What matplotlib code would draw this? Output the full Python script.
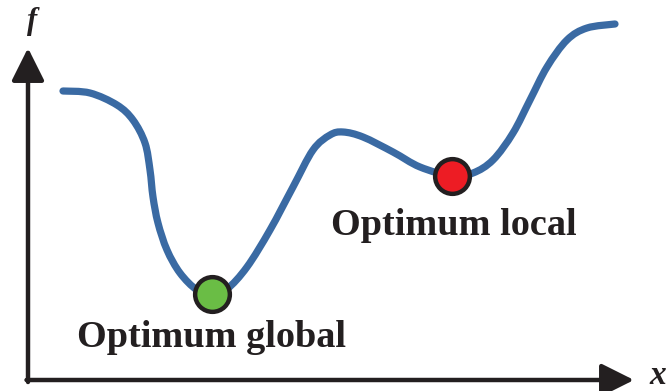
import numpy as np
import matplotlib.pyplot as plt
from matplotlib.path import Path
from matplotlib.patches import PathPatch

# curve (x to the right of the f axis, f above the x axis)
curve_x = [35, 62, 89, 105, 117, 122, 125, 130, 139, 152, 169, 184, 199, 219,
           242, 265, 285, 302, 315, 335, 365, 392, 424, 445, 465, 485, 502,
           519, 539, 559, 587]
curve_f = [289, 287, 275, 260, 237, 210, 183, 157, 130, 107, 90, 86, 91, 113,
           150, 193, 230, 245, 248, 243, 228, 213, 204, 207, 220, 247, 280,
           313, 340, 352, 356]

pt_global = (184, 86)
pt_local = (424, 204)

labels = ["Optimum global", "Optimum local"]

ink = '#231f20'
fig = plt.figure(figsize=(6.71, 3.91), dpi=100)
ax = fig.add_axes([0, 0, 1, 1])
ax.set_xlim(-28, 643)
ax.set_ylim(-11, 380)
ax.axis('off')

arrow = dict(arrowstyle='-|>,head_length=1.0,head_width=0.5', lw=3.2,
             color=ink, mutation_scale=20, shrinkA=0, shrinkB=0)
ax.annotate('', xy=(0, 332), xytext=(0, -2), arrowprops=arrow)
ax.annotate('', xy=(606, 0), xytext=(-1.5, 0), arrowprops=arrow)

# smooth bezier through the read points (catmull-rom handles)
p = np.column_stack([curve_x, curve_f]).astype(float)
ext = np.vstack([p[0], p, p[-1]])
verts = [p[0]]
codes = [Path.MOVETO]
for i in range(1, len(ext) - 2):
    c1 = ext[i] + (ext[i + 1] - ext[i - 1]) / 6
    c2 = ext[i + 1] - (ext[i + 2] - ext[i]) / 6
    verts += [c1, c2, ext[i + 1]]
    codes += [Path.CURVE4] * 3
ax.add_patch(PathPatch(Path(verts, codes), fill=False, ec='#3a6aa3', lw=5.2,
                       capstyle='round', joinstyle='round'))

ax.plot(*pt_global, 'o', ms=25, mfc='#6abd45', mec=ink, mew=3.2)
ax.plot(*pt_local, 'o', ms=25, mfc='#ed1c24', mec=ink, mew=3.2)

font = dict(family='Liberation Serif', weight='bold', color=ink)
ax.text(183.5, 33, labels[0], fontsize=27.5, ha='center', va='baseline', **font)
ax.text(425.5, 145, labels[1], fontsize=27.5, ha='center', va='baseline', **font)
ax.text(4, 358, 'f', fontsize=22, style='italic', ha='center', va='center', **font)
ax.text(630, 4, 'x', fontsize=24, style='italic', ha='center', va='center', **font)

fig.savefig('out.png', dpi=100)
